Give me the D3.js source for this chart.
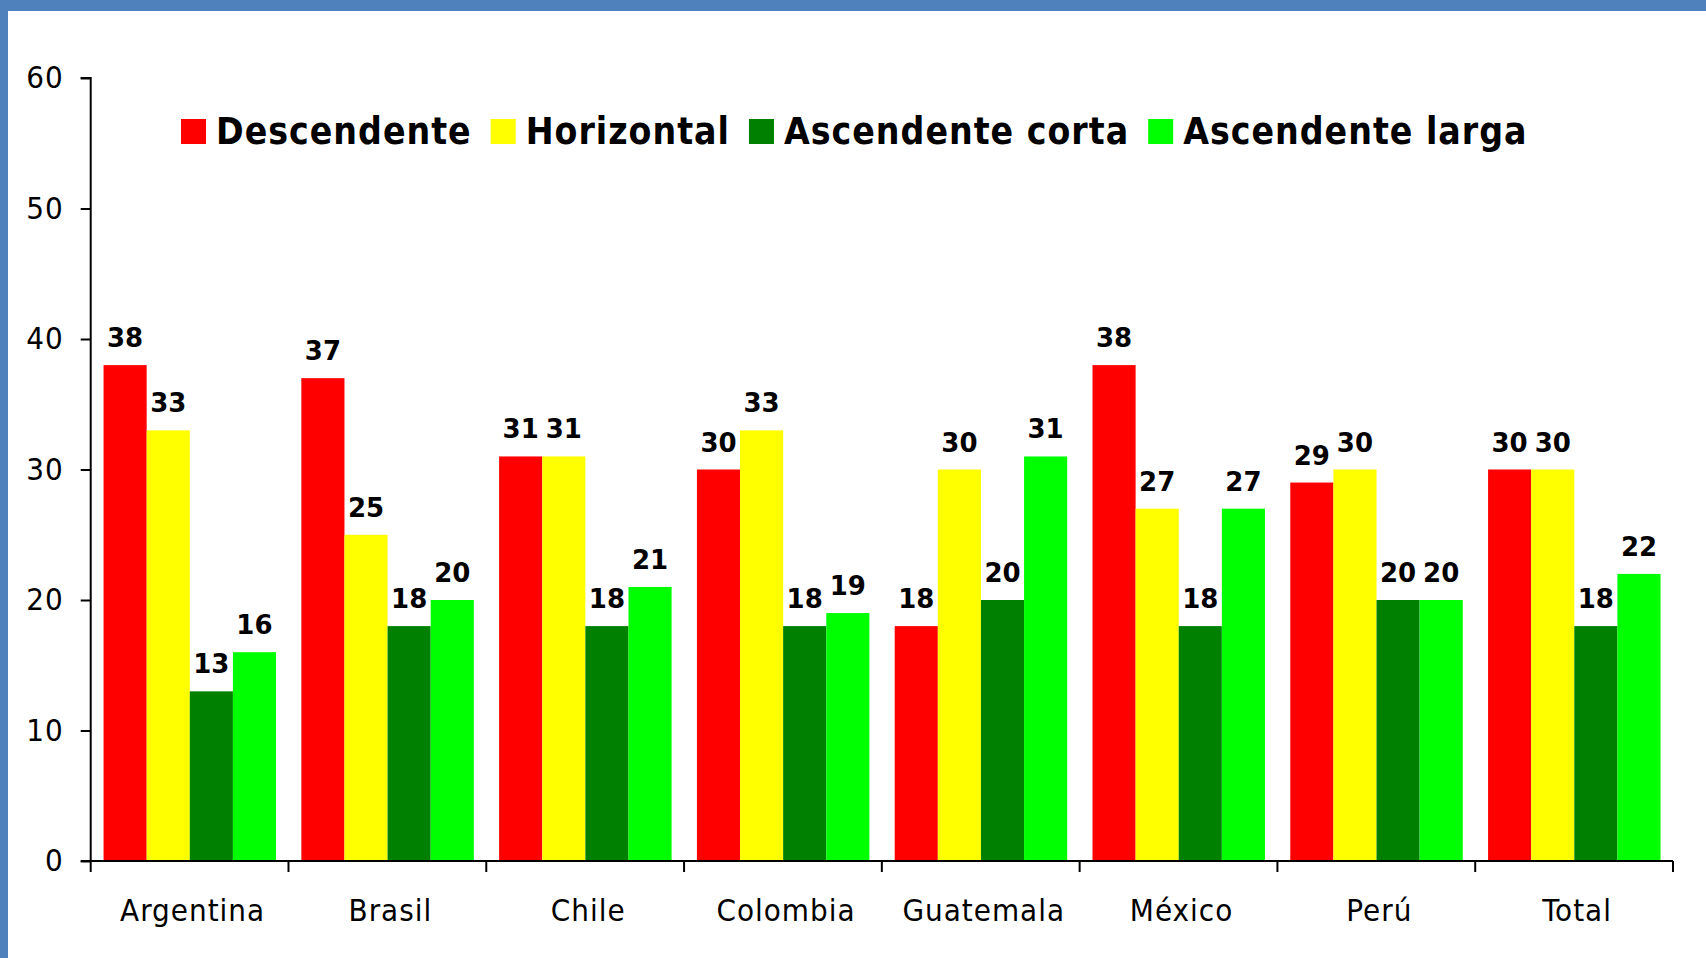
<!DOCTYPE html>
<html>
<head>
<meta charset="utf-8">
<script src="https://cdn.jsdelivr.net/npm/d3@7/dist/d3.min.js"></script>
<style>
  html, body { margin: 0; padding: 0; background: #fff; }
  svg { display: block; }
  .cond { font-family: "DejaVu Sans Condensed", "DejaVu Sans", sans-serif; font-stretch: condensed; }
</style>
</head>
<body>
<svg id="chart" width="1706" height="958"></svg>
<script>
const categories = ["Argentina", "Brasil", "Chile", "Colombia", "Guatemala", "México", "Perú", "Total"];
const seriesNames = ["Descendente", "Horizontal", "Ascendente corta", "Ascendente larga"];
const seriesColors = ["#FF0000", "#FFFF00", "#008000", "#00FF00"];
const descendente = [38, 37, 31, 30, 18, 38, 29, 30];
const horizontal = [33, 25, 31, 33, 30, 27, 30, 30];
const ascendenteCorta = [13, 18, 18, 18, 20, 18, 20, 18];
const ascendenteLarga = [16, 20, 21, 19, 31, 27, 20, 22];
const yTicks = [0, 10, 20, 30, 40, 50, 60];

const seriesValues = [descendente, horizontal, ascendenteCorta, ascendenteLarga];

(function () {
const W = 1706, H = 958;
const svg = d3.select("#chart");

// frame
svg.append("rect").attr("x", 0).attr("y", 0).attr("width", W).attr("height", H).attr("fill", "#4F81BD");
svg.append("rect").attr("x", 8).attr("y", 11).attr("width", W - 8).attr("height", H - 11).attr("fill", "#FFFFFF");

const pLeft = 90.7, pRight = 1673, pTop = 78, pBottom = 861;

const x0 = d3.scaleBand().domain(categories).range([pLeft, pRight]).padding(0);
const gw = x0.bandwidth();
const x1 = d3.scaleBand().domain(d3.range(4)).range([gw * 0.065, gw * 0.937]).padding(0);
const y = d3.scaleLinear().domain([0, 60]).range([pBottom, pTop]);

const data = categories.map((c, i) => ({ cat: c, vals: seriesValues.map((s, k) => ({ k, v: s[i] })) }));

const groups = svg.append("g").selectAll("g").data(data).join("g")
  .attr("transform", d => `translate(${x0(d.cat)},0)`);

groups.selectAll("rect").data(d => d.vals).join("rect")
  .attr("x", d => x1(d.k))
  .attr("y", d => y(d.v))
  .attr("width", x1.bandwidth())
  .attr("height", d => y(0) - y(d.v))
  .attr("fill", d => seriesColors[d.k]);

groups.selectAll("text").data(d => d.vals).join("text")
  .attr("x", d => x1(d.k) + x1.bandwidth() / 2)
  .attr("y", d => y(d.v) - 18)
  .attr("text-anchor", "middle")
  .attr("font-family", "DejaVu Sans, sans-serif")
  .attr("font-weight", "bold")
  .attr("font-size", 26)
  .attr("fill", "#000")
  .text(d => d.v);

// Y axis
const yAxis = d3.axisLeft(y).tickValues(yTicks).tickSize(10).tickPadding(17).tickFormat(d3.format("d"));
const gy = svg.append("g").attr("transform", `translate(${pLeft},0)`).call(yAxis);
gy.attr("font-family", null);
gy.select(".domain").attr("stroke", "#000").attr("stroke-width", 2).attr("d", `M-10,${pTop}H0V${pBottom}H-10`);
gy.selectAll(".tick line").attr("stroke", "#000").attr("stroke-width", 2);
gy.selectAll(".tick text").attr("class", "cond").attr("font-size", 31).attr("letter-spacing", 1).attr("fill", "#000");

// X axis
const xAxis = d3.axisBottom(x0).tickSize(0).tickPadding(38);
const gx = svg.append("g").attr("transform", `translate(0,${pBottom})`).call(xAxis);
gx.attr("font-family", null);
gx.select(".domain").attr("stroke", "#000").attr("stroke-width", 2).attr("d", `M${pLeft},0H${pRight}`);
gx.selectAll(".tick text").attr("class", "cond").attr("font-size", 31).attr("letter-spacing", 1).attr("dx", 3).attr("fill", "#000");
const bounds = categories.map(c => x0(c)).concat([pRight]);
gx.selectAll("line.bound").data(bounds).join("line")
  .attr("class", "bound")
  .attr("x1", d => d).attr("x2", d => d)
  .attr("y1", 0).attr("y2", 11)
  .attr("stroke", "#000").attr("stroke-width", 2);

// Legend
const legend = svg.append("g");
let lx = 181;
seriesNames.forEach((name, k) => {
  legend.append("rect").attr("x", lx).attr("y", 119).attr("width", 25).attr("height", 25).attr("fill", seriesColors[k]);
  const t = legend.append("text").attr("class", "cond")
    .attr("x", lx + 35).attr("y", 144)
    .attr("font-size", 37).attr("font-weight", "bold").attr("letter-spacing", 1).attr("fill", "#000")
    .text(name);
  lx = lx + 35 + t.node().getBBox().width + 19;
});
})();
</script>
</body>
</html>
